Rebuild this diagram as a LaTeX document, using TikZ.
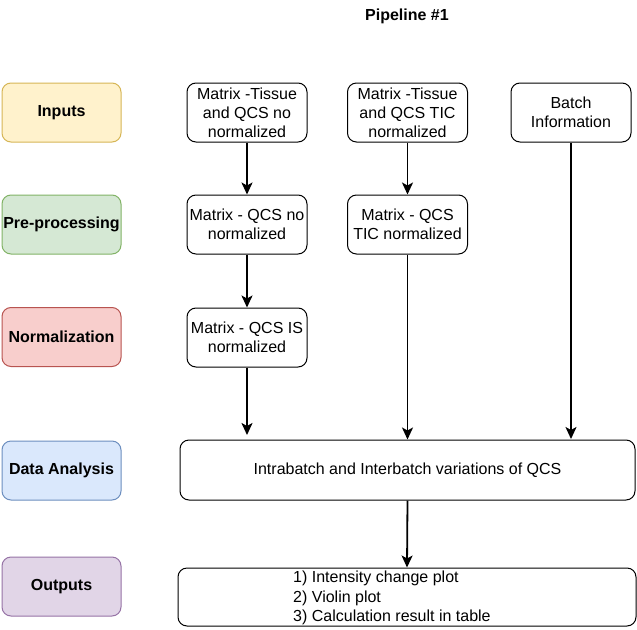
\documentclass[tikz,border=0pt]{standalone}
\usepackage{fontspec}
\setmainfont{Liberation Sans}
\usetikzlibrary{arrows.meta}
\definecolor{inFill}{HTML}{FFF2CC}\definecolor{inDraw}{HTML}{D6B656}
\definecolor{ppFill}{HTML}{D5E8D4}\definecolor{ppDraw}{HTML}{82B366}
\definecolor{nmFill}{HTML}{F8CECC}\definecolor{nmDraw}{HTML}{B85450}
\definecolor{daFill}{HTML}{DAE8FC}\definecolor{daDraw}{HTML}{6C8EBF}
\definecolor{ouFill}{HTML}{E1D5E7}\definecolor{ouDraw}{HTML}{9673A6}
\tikzset{
  base/.style={rounded corners=9pt, line width=1pt, inner sep=0pt, align=center,
    font=\fontsize{16}{19.2}\selectfont},
  stagebox/.style={base, minimum width=119pt, minimum height=59pt, font=\fontsize{16}{19.2}\selectfont\bfseries},
  procbox/.style={base, draw=black, fill=white, minimum width=120pt, minimum height=59pt},
  flow/.style={line width=1.8pt, -{Stealth[length=12pt,width=11pt,inset=3pt]}},
}
\begin{document}
\begin{tikzpicture}[x=1pt,y=-1pt]
\useasboundingbox[fill=white] (0,0) rectangle (637,629);
\node[font=\fontsize{16}{19.2}\selectfont\bfseries] (title) at (407,16) {Pipeline \#1};
% stage boxes
\node[stagebox, draw=inDraw, fill=inFill] (inputs) at (61.5,112.5) {Inputs};
\node[stagebox, draw=ppDraw, fill=ppFill] (pre) at (61.5,224.5) {Pre-processing};
\node[stagebox, draw=nmDraw, fill=nmFill] (norm) at (61.5,337) {Normalization};
\node[stagebox, draw=daDraw, fill=daFill] (data) at (61.5,470.5) {Data Analysis};
\node[stagebox, draw=ouDraw, fill=ouFill] (outs) at (61.5,586.5) {Outputs};
% process boxes
\node[procbox] (a) at (247,112.5) {Matrix -Tissue\\and QCS no\\normalized};
\node[procbox] (b) at (247,224.5) {Matrix - QCS no\\normalized};
\node[procbox] (c) at (247,337.5) {Matrix - QCS IS\\normalized};
\node[procbox] (d) at (407.5,112.5) {Matrix -Tissue\\and QCS TIC\\normalized};
\node[procbox] (e) at (407.5,224.5) {Matrix - QCS\\TIC normalized};
\node[procbox] (f) at (571,112.5) {Batch\\Information};
\node[base, draw=black, fill=white, minimum width=455pt, minimum height=60pt] (g) at (407.5,470) {Intrabatch and Interbatch variations of QCS};
\node[base, draw=black, fill=white, minimum width=458pt, minimum height=58pt] (h) at (407,597) {};
\node[anchor=west, align=left, inner sep=0pt, font=\fontsize{16}{19.2}\selectfont] (htext) at (293,598) {1) Intensity change plot\\2) Violin plot\\3) Calculation result in table};
% connectors
\coordinate (cend) at (247,435);
\coordinate (fend) at (571,439);
\draw[flow] (a.south) -- (b.north);
\draw[flow] (b.south) -- (c.north);
\draw[flow] (c.south) -- (cend);
\draw[flow] (d.south) -- (e.north);
\draw[flow] (e.south) -- (e.south |- g.north);
\draw[flow] (f.south) -- (fend);
\draw[flow] (g.south) -- (h.north);
\end{tikzpicture}
\end{document}
